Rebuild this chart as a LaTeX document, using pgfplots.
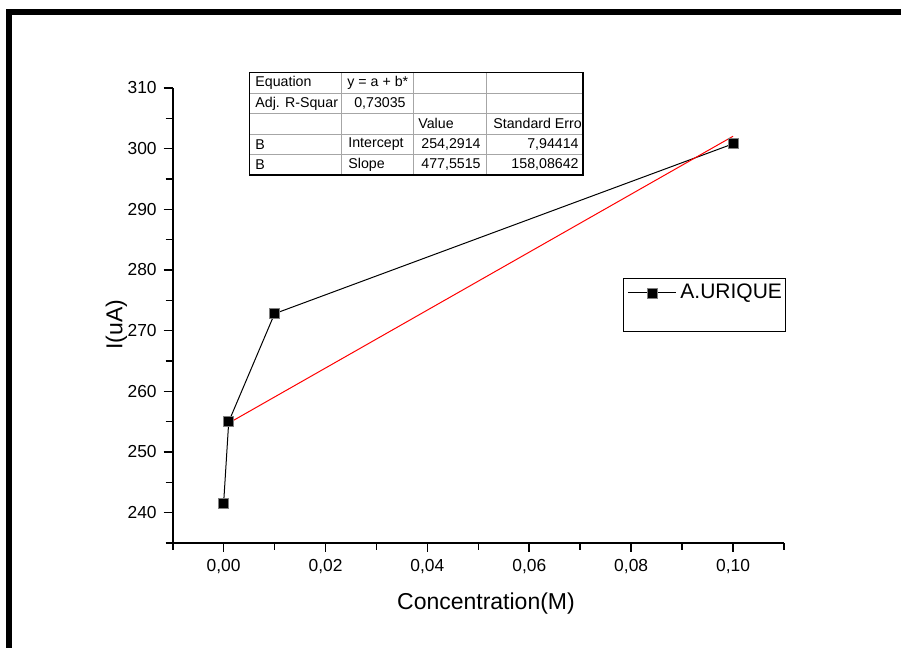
\documentclass[border=0pt]{standalone}
\usepackage{fontspec}
\setmainfont{Liberation Sans}
\usepackage{pgfplots}
\pgfplotsset{compat=1.18}
\begin{document}
\begin{tikzpicture}
\useasboundingbox (0,0) rectangle (450.5pt,324pt);
\draw[line width=3pt, line join=miter] (4.5pt,-3pt) -- (4.5pt,318pt) -- (455pt,318pt);
\begin{axis}[
  at={(86.35pt,52.5pt)}, anchor=south west,
  scale only axis, width=305.65pt, height=227.5pt,
  xmin=-0.01, xmax=0.11, ymin=235, ymax=310,
  clip=false,
  axis x line*=bottom, axis y line*=left,
  axis line style={-, line width=0.8pt},
  tick align=outside,
  major tick length=4.5pt, minor tick length=3.5pt,
  every tick/.style={black, line width=0.8pt},
  xtick={0,0.02,0.04,0.06,0.08,0.1},
  minor xtick={-0.01,0.01,0.03,0.05,0.07,0.09,0.11},
  ytick={240,250,260,270,280,290,300,310},
  minor ytick={235,245,255,265,275,285,295,305},
  scaled x ticks=false,
  /pgf/number format/assume math mode=true,
  xticklabel style={/pgf/number format/.cd, fixed, fixed zerofill, precision=2, use comma},
  yticklabel style={/pgf/number format/.cd, fixed, precision=0, 1000 sep={}},
  tick label style={font=\fontsize{8.7}{10}\selectfont},
  xlabel={Concentration(M)}, ylabel={I(uA)},
  label style={font=\fontsize{11.5}{13}\selectfont},
  xlabel style={at={(axis description cs:0.5125,-0.133)}, anchor=center},
  ylabel style={at={(axis description cs:-0.092,0.48)}, anchor=center},
  legend style={at={(rel axis cs:0.7432,0.5495)}, anchor=west, draw=none, fill=none,
    font=\fontsize{10.5}{12}\selectfont, inner xsep=0pt, inner ysep=0pt},
  legend cell align=left,
  legend image code/.code={\draw[mark repeat=2,mark phase=2,#1] plot coordinates {(0pt,0pt)(12pt,0pt)(24pt,0pt)};},
]
\draw[black, line width=0.5pt] (rel axis cs:0.7371,0.5818) rectangle (rel axis cs:1.0028,0.4659);
\addplot[black, line width=0.5pt, mark=square*, mark size=2.5pt, mark options={fill=black, draw=gray, line width=0.4pt}]
  coordinates {(0,241.6) (0.001,255.0) (0.01,272.8) (0.1,300.8)};
\addlegendentry{A.URIQUE}
\addplot[red, line width=0.5pt, forget plot] coordinates {(0.001,254.769) (0.1,302.047)};
\end{axis}
\begin{scope}[x=0.5pt, y=-0.5pt, shift={(0pt,324pt)}]
  \draw[gray!70, line width=0.4pt]
    (249.3,93.2) -- (583,93.2) (249.3,113.7) -- (583,113.7)
    (249.3,134.2) -- (583,134.2) (249.3,154.6) -- (583,154.6)
    (341.7,72.7) -- (341.7,175.1) (413,72.7) -- (413,175.1) (486.7,72.7) -- (486.7,175.1);
  \draw[black, line width=0.6pt] (249.3,72.7) rectangle (583,175.1);
  \begin{scope}[every node/.style={inner sep=0pt, font=\fontsize{7.1}{8}\selectfont}]
    \node[anchor=west] at (255,82.9) {Equation};
    \node[anchor=west] at (347,82.9) {y = a + b*};
    \node[anchor=west] at (255,103.4) {Adj. R-Squar};
    \node[anchor=east] at (406,103.4) {0,73035};
    \node[anchor=west] at (418,123.9) {Value};
    \node[anchor=west] at (493,123.9) {Standard Erro};
    \node[anchor=west] at (255,144.4) {B};
    \node[anchor=west] at (348,144.4) {Intercept};
    \node[anchor=east] at (481,144.4) {254,2914};
    \node[anchor=east] at (579,144.4) {7,94414};
    \node[anchor=west] at (255,164.9) {B};
    \node[anchor=west] at (348,164.9) {Slope};
    \node[anchor=east] at (481,164.9) {477,5515};
    \node[anchor=east] at (579,164.9) {158,08642};
  \end{scope}
\end{scope}
\end{tikzpicture}
\end{document}
